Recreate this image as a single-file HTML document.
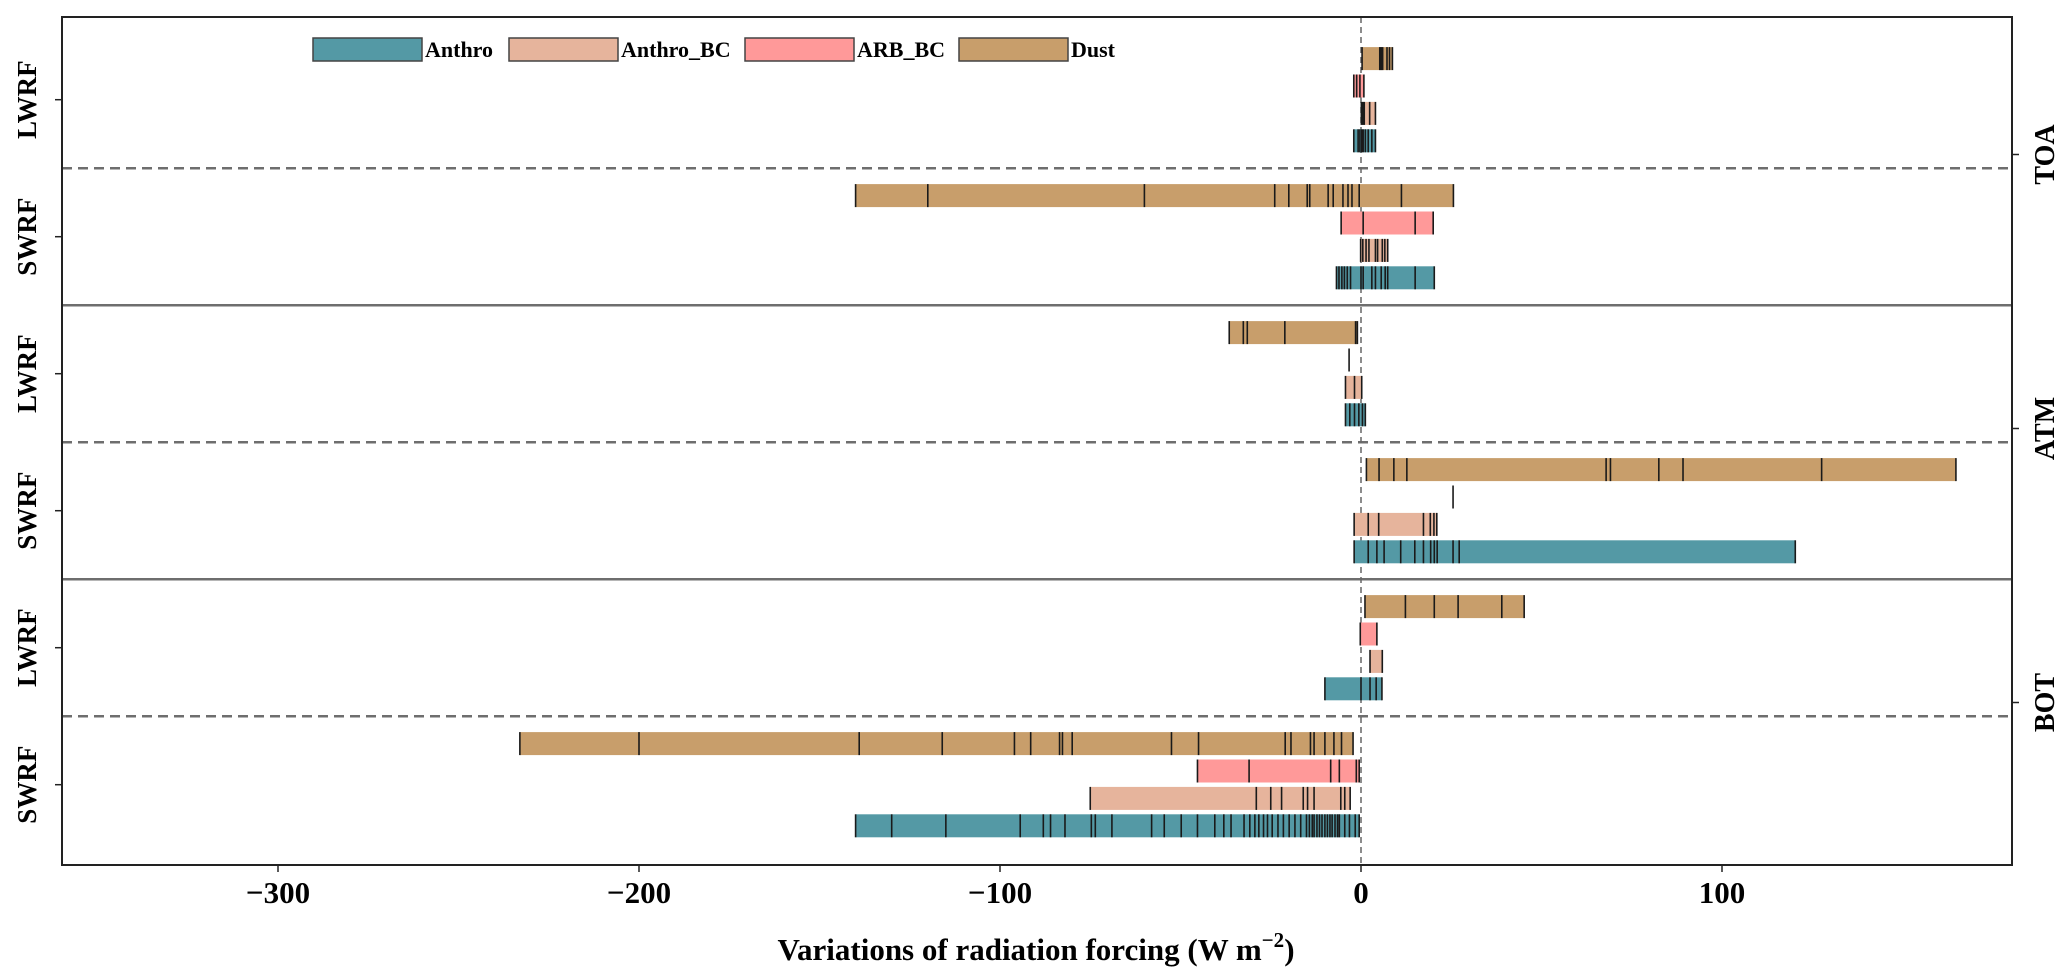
<!DOCTYPE html>
<html><head><meta charset="utf-8"><style>
html,body{margin:0;padding:0;background:#fff;}
svg{display:block;font-family:"Liberation Serif",serif;font-weight:bold;}
</style></head><body>
<svg id="chart" width="2067" height="980" viewBox="0 0 2067 980" xmlns="http://www.w3.org/2000/svg">
<g id="plot"></g>
</svg>
<script>
const categories = ["TOA LWRF","TOA SWRF","ATM LWRF","ATM SWRF","BOT LWRF","BOT SWRF"];
const seriesNames = ["Dust","ARB_BC","Anthro_BC","Anthro"];
const seriesColors = ["#c89e6b","#ff9999","#e6b49c","#5499a5"];
const dustValues = [
 [0.3,5.2,5.6,6.0,7.2,7.9,8.7],
 [-140,-120,-60,-23.9,-20,-14.9,-14.2,-9.1,-7.7,-5,-3.6,-2.5,-0.5,11.2,25.6],
 [-36.5,-32.6,-31.5,-21.1,-1.5,-1],
 [1.5,5,9.1,12.7,67.9,69.1,82.5,89.2,127.6,164.8],
 [1.1,12.3,20.3,26.9,39,45.2],
 [-233,-200,-139,-116,-96,-91.5,-83.5,-82.7,-80,-52.5,-45,-21,-19.4,-14,-13,-10,-7.5,-5.4,-2.2]
];
const arbValues = [
 [-2.0,-1.2,-0.3,0.8],
 [-5.5,0.6,15,20],
 [-3.3],
 [25.5],
 [-0.2,4.4],
 [-45.3,-31,-8.4,-6,-1.3,-0.5]
];
const anthroBcValues = [
 [0.1,0.5,0.9,2.4,4.0],
 [-0.1,0.5,1.4,2.2,4,4.6,5.9,6.6,7.4],
 [-4.3,-1.8,0.2],
 [-1.9,2,4.9,17.3,19.2,20.2,21],
 [2.5,5.9],
 [-75,-29,-25,-22,-16,-14.8,-13,-5.6,-4.5,-3]
];
const anthroValues = [
 [-2.0,-0.8,-0.3,0.2,0.6,1.2,2.0,3.0,4.0],
 [-6.8,-6.1,-5.3,-4.6,-3.8,-2.9,0,0.6,3,4,5.6,6.7,7.4,15,20.3],
 [-4.3,-3.1,-1.8,-0.6,0.4,1.2],
 [-1.9,2,4.4,6.4,11,14.9,17.3,19.3,20.3,21.1,25.5,27.2,120.3],
 [-10,0,2.5,4.2,5.8],
 [-140,-130,-115,-94.4,-88,-86,-82,-74.7,-73.6,-69,-58,-54.5,-49.8,-45.3,-40.5,-38,-36,-32.4,-30.8,-29.4,-28.3,-27,-25.9,-24.6,-23,-21.5,-19.9,-18.3,-16.7,-15.1,-14.3,-13.5,-13,-12.2,-11.5,-10.8,-10,-9.3,-8.6,-8,-7.2,-6.5,-6,-4.5,-3.2,-1.6,-0.5]
];
const xTicks = [-300,-200,-100,0,100];
const xTickLabels = ["\u2212300","\u2212200","\u2212100","0","100"];
const yGroupLabels = ["LWRF","SWRF","LWRF","SWRF","LWRF","SWRF"];
const levelLabels = ["TOA","ATM","BOT"];
const allSeries = [dustValues, arbValues, anthroBcValues, anthroValues];

const NS = "http://www.w3.org/2000/svg";
const L = 62, R = 2012, T = 17, B = 865;
function x(v){ return 1361 + 3.61 * v; }
function y(slot){ return 58.6 + 27.4 * slot; }
const plot = document.getElementById('plot');
function mk(tag, attrs, parent){
  const e = document.createElementNS(NS, tag);
  for (const k in attrs) e.setAttribute(k, attrs[k]);
  (parent || plot).appendChild(e);
  return e;
}
// separators
for (let g = 0; g < 5; g++) {
  const slot = 4 + g * 5;
  const solid = (g % 2 === 1);
  const ln = mk('line', {x1:L, x2:R, y1:y(slot), y2:y(slot), stroke: solid ? '#6e6e6e' : '#6e6e6e', 'stroke-width': solid ? 2.5 : 2.5, 'stroke-dasharray': solid ? '' : '10,6'});
  
  
}
// zero line
const zl = mk('line', {x1:x(0), x2:x(0), y1:T, y2:B, stroke:'#666', 'stroke-width':1.5, 'stroke-dasharray':'6,4'});


// bars
for (let c = 0; c < categories.length; c++) {
  for (let s = 0; s < allSeries.length; s++) {
    const vals = allSeries[s][c];
    const slot = c * 5 + s;
    const cy = y(slot), h = 23;
    const mn = Math.min(...vals), mx = Math.max(...vals);
    const g = mk('g', {});
    
    
    mk('rect', {x:x(mn), y:cy - h/2, width:Math.max(x(mx) - x(mn), 0.01), height:h, fill:seriesColors[s]}, g);
    for (const v of vals) {
      const t = mk('line', {x1:x(v), x2:x(v), y1:cy - h/2, y2:cy + h/2, stroke:'#1a1a1a', 'stroke-width':1.6}, g);
      
      
    }
  }
}
// frame
const fr = mk('rect', {x:L, y:T, width:R - L, height:B - T, fill:'none', stroke:'#222', 'stroke-width':2});


// x ticks
for (let i = 0; i < xTicks.length; i++) {
  const tx = x(xTicks[i]);
  const tk = mk('line', {x1:tx, x2:tx, y1:B, y2:B + 7, stroke:'#222', 'stroke-width':1.5});
  
  
  const tl = mk('text', {x:tx, y:903, 'text-anchor':'middle', 'font-size':31, fill:'#000'});
  tl.textContent = xTickLabels[i];
  
  
}
// y group labels
for (let i = 0; i < yGroupLabels.length; i++) {
  const cy = y(i * 5 + 1.5);
  const tk = mk('line', {x1:L - 7, x2:L, y1:cy, y2:cy, stroke:'#222', 'stroke-width':1.5});
  
  
  const tl = mk('text', {x:0, y:0, 'text-anchor':'middle', 'font-size':27, fill:'#000', transform:'translate(36,' + cy + ') rotate(-90)'});
  tl.textContent = yGroupLabels[i];
  
  
}
// level labels on right
for (let i = 0; i < levelLabels.length; i++) {
  const cy = y(i * 10 + 3.5);
  const tk = mk('line', {x1:R, x2:R + 7, y1:cy, y2:cy, stroke:'#222', 'stroke-width':1.5});
  
  
  const tl = mk('text', {x:0, y:0, 'text-anchor':'middle', 'font-size':28, fill:'#000', transform:'translate(2054,' + cy + ') rotate(-90)'});
  tl.textContent = levelLabels[i];
  
  
}
// x title
const xt = mk('text', {x:1036, y:960, 'text-anchor':'middle', 'font-size':31, fill:'#000'});


xt.innerHTML = 'Variations of radiation forcing (W m<tspan dy="-13" font-size="21">\u22122</tspan><tspan dy="13">)</tspan>';
// legend
const legendOrder = [3,2,1,0];
const legendBoxX = [313,509,745,959];
const lg = mk('g', {});


for (let i = 0; i < 4; i++) {
  const s = legendOrder[i];
  const e = mk('g', {}, lg);
  
  
  mk('rect', {x:legendBoxX[i], y:38, width:109, height:23, fill:seriesColors[s], stroke:'#444', 'stroke-width':1.5}, e);
  const t = mk('text', {x:legendBoxX[i] + 112, y:57, 'font-size':22, fill:'#000'}, e);
  t.textContent = seriesNames[s];
}
</script>
</body></html>
